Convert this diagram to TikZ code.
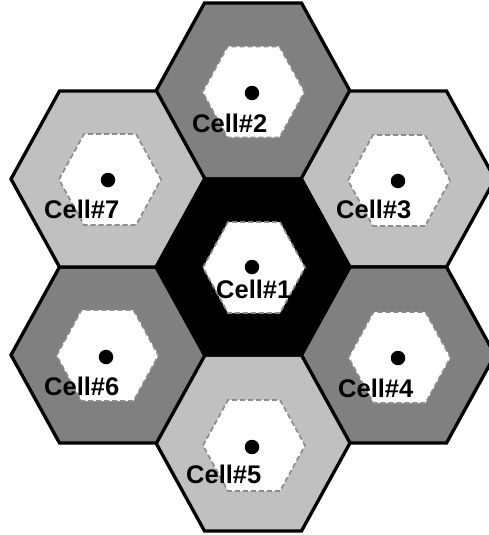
\documentclass[tikz,border=0pt]{standalone}
\usepackage{fontspec}
\setmainfont{Liberation Sans}
\definecolor{midgray}{HTML}{808080}
\definecolor{lightgray}{HTML}{C0C0C0}
\definecolor{dashgray}{HTML}{8C8C8C}
\tikzset{
  outerhex/.style={draw=black, line width=3.3pt, line join=miter},
  innerhex/.style={draw=dashgray, fill=white, line width=1.7pt, dash pattern=on 5pt off 3pt},
  celldot/.style={circle, fill=black, inner sep=0pt, minimum size=14.5pt},
  celllabel/.style={anchor=base west, inner sep=0pt, font=\fontsize{25.5}{30}\selectfont\bfseries},
}
\newcommand\drawouterhex[2]{%
  \begin{scope}[shift={(#1)}]
    \path[outerhex, fill=#2] (-97,0) -- (-48.5,-88) -- (48.5,-88) -- (97,0) -- (48.5,88) -- (-48.5,88) -- cycle;
  \end{scope}}
\newcommand\drawinnerhex[1]{%
  \begin{scope}[shift={(#1)}]
    \path[innerhex] (-51,0) -- (-26,-45.5) -- (26,-45.5) -- (51,0) -- (26,45.5) -- (-26,45.5) -- cycle;
  \end{scope}}
\begin{document}
\begin{tikzpicture}[x=1pt, y=-1pt]
\useasboundingbox (0,0) rectangle (489,535);
\clip (0,0) rectangle (489,535);
% outer cell centres
\coordinate (o1) at (253,267);
\coordinate (o2) at (253,91);
\coordinate (o3) at (398,179);
\coordinate (o4) at (398,355);
\coordinate (o5) at (253,443);
\coordinate (o6) at (108,355);
\coordinate (o7) at (108,179);
% inner cell centres
\coordinate (i1) at (254,267.5);
\coordinate (i2) at (253.5,92);
\coordinate (i3) at (399,180.5);
\coordinate (i4) at (399.5,357.5);
\coordinate (i5) at (254,445.5);
\coordinate (i6) at (107.5,355.5);
\coordinate (i7) at (110,179.5);
\drawouterhex{o2}{midgray}
\drawouterhex{o3}{lightgray}
\drawouterhex{o4}{midgray}
\drawouterhex{o5}{lightgray}
\drawouterhex{o6}{midgray}
\drawouterhex{o7}{lightgray}
\drawouterhex{o1}{black}
\foreach \c in {i1,i2,i3,i4,i5,i6,i7} {\drawinnerhex{\c}}
% dots
\node[celldot] (d1) at (252,267) {};
\node[celldot] (d2) at (252,93) {};
\node[celldot] (d3) at (398,181) {};
\node[celldot] (d4) at (398,358) {};
\node[celldot] (d5) at (252,447) {};
\node[celldot] (d6) at (106,357) {};
\node[celldot] (d7) at (108,180) {};
% labels
\node[celllabel] (t1) at (216,298) {Cell\#1};
\node[celllabel] (t2) at (192,132) {Cell\#2};
\node[celllabel] (t3) at (336,218) {Cell\#3};
\node[celllabel] (t4) at (338,397) {Cell\#4};
\node[celllabel] (t5) at (186,483) {Cell\#5};
\node[celllabel] (t6) at (44,395) {Cell\#6};
\node[celllabel] (t7) at (44,218) {Cell\#7};
\end{tikzpicture}
\end{document}
